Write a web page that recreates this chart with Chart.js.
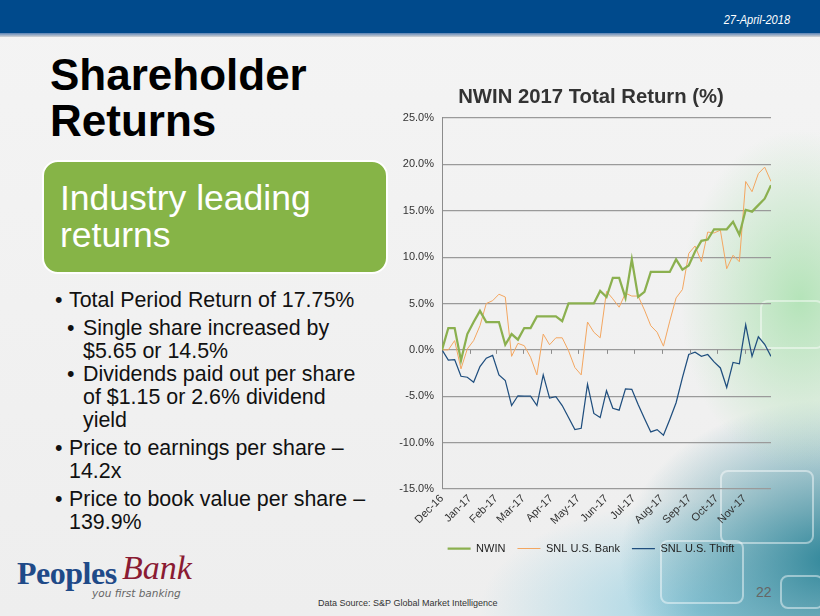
<!DOCTYPE html>
<html>
<head>
<meta charset="utf-8">
<script src="https://cdn.jsdelivr.net/npm/chart.js@4.4.1/dist/chart.umd.min.js"></script>
<style>
  html, body { margin: 0; padding: 0; }
  body {
    width: 820px; height: 616px; position: relative; overflow: hidden;
    font-family: Arial, "Liberation Sans", sans-serif;
    background:
      radial-gradient(ellipse 120px 170px at 800px 300px, rgba(170,225,175,0.85), rgba(170,225,175,0) 100%),
      radial-gradient(ellipse 210px 160px at 830px 560px, rgba(40,130,150,0.95), rgba(60,150,170,0) 100%),
      radial-gradient(ellipse 220px 110px at 700px 610px, rgba(140,205,225,0.8), rgba(140,205,225,0) 100%),
      linear-gradient(#f4f4f4, #eeeeee);
  }
  .abs { position: absolute; }
  #header { left: 0; top: 0; width: 820px; height: 33px; background: #004a8c; }
  #headerline { left: 0; top: 33px; width: 820px; height: 4px; background: linear-gradient(#5b83b5, #d6d6d6); }
  #date { right: 30px; top: 12px; color: #fff; font-style: italic; font-size: 13px;
          transform: scaleX(0.85); transform-origin: right center; }
  #title { left: 50px; top: 52px; font-size: 44px; font-weight: bold; line-height: 46px; color: #000; }
  #greenbox { left: 42px; top: 160px; width: 342px; height: 110px; background: #86b447;
              border: 2px solid #fff; border-radius: 16px; }
  #greentext { left: 60px; top: 180px; color: #fff; font-size: 35.5px; line-height: 37px; }
  .bl { position: absolute; font-size: 21.4px; color: #111; line-height: 23px; white-space: nowrap; }
  .deco { position: absolute; border: 2px solid rgba(255,255,255,0.45); border-radius: 8px; }
  #chart { position: absolute; left: 390px; top: 80px; width: 400px; height: 484px; }
  #src { left: 318px; top: 598px; font-size: 9px; color: #333; }
  #page { left: 756px; top: 584px; font-size: 14px; color: #666; }
  #logo1 { left: 17px; top: 555px; font-family: "Liberation Serif", serif; font-weight: bold;
           font-size: 32px; color: #1f4a88; letter-spacing: -0.5px; }
  #logo2 { left: 122px; top: 549px; font-family: "Liberation Serif", serif; font-style: italic;
           font-size: 34px; color: #8a1b33; }
  #logo3 { left: 92px; top: 587px; font-family: "DejaVu Sans", sans-serif; font-style: italic;
           font-size: 10.5px; color: #666; }
</style>
</head>
<body>
<div class="deco" style="left:720px;top:470px;width:90px;height:70px;"></div>
<div class="deco" style="left:660px;top:540px;width:80px;height:60px;"></div>
<div class="deco" style="left:760px;top:300px;width:60px;height:45px;"></div>
<div class="deco" style="left:780px;top:575px;width:40px;height:30px;"></div>

<div id="header" class="abs"></div>
<div id="headerline" class="abs"></div>
<div id="date" class="abs">27-April-2018</div>

<div id="title" class="abs">Shareholder<br>Returns</div>
<div id="greenbox" class="abs"></div>
<div id="greentext" class="abs">Industry leading<br>returns</div>

<div class="bl" style="left:55px;top:289px;">•</div>
<div class="bl" style="left:69px;top:289px;">Total Period Return of 17.75%</div>
<div class="bl" style="left:67px;top:317px;">•</div>
<div class="bl" style="left:83px;top:317px;">Single share increased by<br>$5.65 or 14.5%</div>
<div class="bl" style="left:67px;top:363px;">•</div>
<div class="bl" style="left:83px;top:363px;">Dividends paid out per share<br>of $1.15 or 2.6% dividend<br>yield</div>
<div class="bl" style="left:55px;top:437px;">•</div>
<div class="bl" style="left:69px;top:437px;">Price to earnings per share –<br>14.2x</div>
<div class="bl" style="left:55px;top:488px;">•</div>
<div class="bl" style="left:69px;top:488px;">Price to book value per share –<br>139.9%</div>

<div id="logo1" class="abs">Peoples</div>
<div id="logo2" class="abs">Bank</div>
<div id="logo3" class="abs">you first banking</div>

<div id="src" class="abs">Data Source: S&amp;P Global Market Intelligence</div>
<div id="page" class="abs">22</div>

<canvas id="chart" width="400" height="484"></canvas>

<script>
// ---------------- DATA ----------------
// weekly total return (%), 30-Dec-2016 .. 29-Dec-2017
const nwin = [0, 2.35, 2.35, -1.15, 1.7, 3.0, 4.2, 3.0, 3.0, 3.0, 0.55, 1.7, 1.1, 2.35, 2.35,
    3.6, 3.6, 3.6, 3.6, 3.1, 5.0, 5.0, 5.0, 5.0, 5.0, 6.35, 5.7, 7.75, 7.75, 5.6, 9.75, 5.7,
    6.25, 8.4, 8.4, 8.4, 8.4, 9.75, 8.65, 9.1, 10.6, 11.75, 11.9, 13.0, 13.0, 13.0, 13.8, 12.4,
    15.1, 14.9, 15.6, 16.3, 17.75];
const snlBank = [0, 0, 1.0, -2.05, 0.1, 1.0, 2.6, 5.0, 5.3, 6.0, 5.7, -0.7, 0.7, 0.45, -0.8,
    -2.7, 1.7, 0.55, 1.3, 1.3, -0.1, -1.9, -2.7, 3.0, 1.9, 1.3, 6.3, 5.5, 4.6, 6.1, 5.8, 5.8,
    4.3, 2.6, 1.9, 0.4, 3.1, 5.6, 6.5, 10.4, 11.2, 9.5, 12.7, 12.6, 12.9, 8.75, 10.2, 9.5,
    18.15, 17.05, 19.0, 19.7, 18.15];
const snlThrift = [0, -1.1, -1.05, -2.85, -2.95, -3.5, -1.8, -0.9, -0.6, -2.7, -3.3, -6.0, -4.95,
    -5.0, -5.0, -6.0, -2.7, -5.2, -5.05, -6.0, -7.3, -8.6, -8.45, -3.7, -6.85, -7.3, -4.4, -6.3,
    -6.5, -4.2, -4.25, -5.9, -7.4, -8.85, -8.6, -9.2, -7.5, -5.7, -3.0, -0.5, -0.25, -0.7, -0.5,
    -1.3, -1.95, -4.05, -1.35, -1.5, 2.7, -0.7, 1.4, 0.6, -0.7];

// month ticks (days after 30-Dec-2016)
const monthDays = [0, 31, 60, 90, 121, 151, 182, 212, 243, 274, 304, 335];
const monthLabels = ["Dec-16", "Jan-17", "Feb-17", "Mar-17", "Apr-17", "May-17",
    "Jun-17", "Jul-17", "Aug-17", "Sep-17", "Oct-17", "Nov-17"];

const toPoints = arr => arr.map((v, i) => ({ x: i * 7, y: v }));

// small tick marks on the 0% line, like the Excel category axis
const zeroTicks = {
    id: "zeroTicks",
    afterDatasetsDraw(chart) {
        const ctx = chart.ctx, xs = chart.scales.x, ys = chart.scales.y;
        const y0 = ys.getPixelForValue(0);
        ctx.save();
        ctx.strokeStyle = "#8c8c8c";
        ctx.lineWidth = 1;
        monthDays.slice(1).forEach(d => {
            const px = Math.round(xs.getPixelForValue(d)) + 0.5;
            ctx.beginPath();
            ctx.moveTo(px, y0);
            ctx.lineTo(px, y0 + 4);
            ctx.stroke();
        });
        ctx.restore();
    }
};

// excel centres title + legend on the plot, not on the whole box
const centreOnPlot = {
    id: "centreOnPlot",
    afterLayout(chart) {
        const shift = 10.5;
        [chart.titleBlock, chart.legend].forEach(b => {
            if (b) { b.left += shift; b.right += shift; }
        });
    }
};

new Chart(document.getElementById("chart"), {
    type: "line",
    data: {
        datasets: [
            { label: "NWIN", data: toPoints(nwin), borderColor: "#8bb04f", backgroundColor: "#8bb04f", borderWidth: 2.25 },
            { label: "SNL U.S. Bank", data: toPoints(snlBank), borderColor: "#f3a660", backgroundColor: "#f3a660", borderWidth: 1 },
            { label: "SNL U.S. Thrift", data: toPoints(snlThrift), borderColor: "#1f4e7e", backgroundColor: "#1f4e7e", borderWidth: 1.25 }
        ]
    },
    options: {
        responsive: false,
        animation: false,
        layout: { padding: { right: 19, left: 0, top: 0, bottom: 0 } },
        elements: { point: { radius: 0 }, line: { tension: 0 } },
        plugins: {
            tooltip: { enabled: false },
            title: {
                display: true,
                text: "NWIN 2017 Total Return (%)",
                color: "#333333",
                font: { family: "Arial, 'Liberation Sans'", size: 20.3, weight: "bold" },
                padding: { top: 5, bottom: 8.6 }
            },
            legend: {
                position: "bottom",
                labels: {
                    usePointStyle: true,
                    pointStyle: "line",
                    pointStyleWidth: 23,
                    boxWidth: 23,
                    boxHeight: 10,
                    padding: 12,
                    color: "#222",
                    font: { family: "Arial, 'Liberation Sans'", size: 11 }
                }
            }
        },
        scales: {
            x: {
                type: "linear",
                min: 0,
                max: 364,
                afterBuildTicks: s => { s.ticks = monthDays.map(v => ({ value: v })); },
                afterFit: s => { s.height = 42; },
                grid: { display: false, drawTicks: false },
                border: { display: false },
                ticks: {
                    autoSkip: false,
                    minRotation: 45,
                    maxRotation: 45,
                    padding: 3,
                    color: "#333",
                    font: { family: "Arial, 'Liberation Sans'", size: 11 },
                    callback: v => monthLabels[monthDays.indexOf(v)]
                }
            },
            y: {
                min: -15,
                max: 25,
                afterFit: s => { s.width = 52; },
                grid: { color: "#9a9a9a", lineWidth: 1.2, drawTicks: false },
                border: { display: true, color: "#8c8c8c" },
                ticks: {
                    stepSize: 5,
                    padding: 8,
                    color: "#333",
                    font: { family: "Arial, 'Liberation Sans'", size: 11 },
                    callback: v => v.toFixed(1) + "%"
                }
            }
        }
    },
    plugins: [zeroTicks, centreOnPlot]
});
</script>
</body>
</html>
